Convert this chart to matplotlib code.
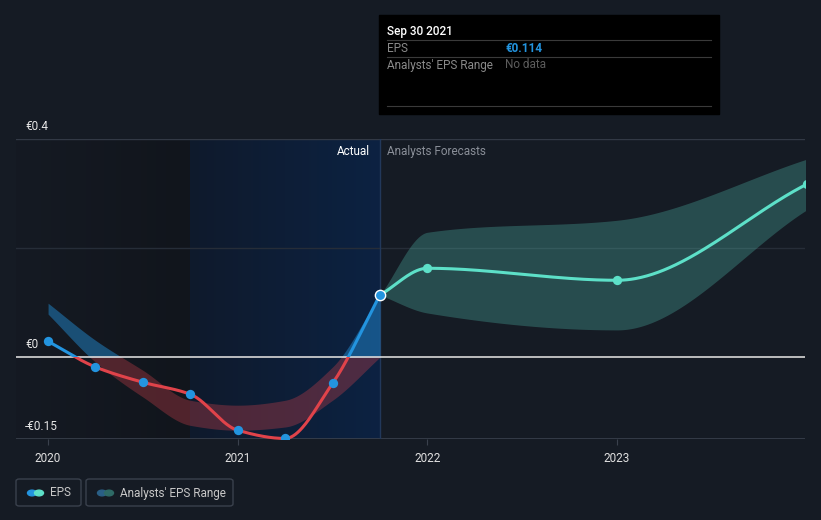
import numpy as np
import matplotlib
matplotlib.use('Agg')
import matplotlib.pyplot as plt
from matplotlib.patches import Rectangle, FancyBboxPatch, Circle
from matplotlib.colors import to_rgb

plt.rcParams['font.family'] = ['Roboto', 'DejaVu Sans']

# data (decimal years)
eps_x = [2020.0, 2020.25, 2020.5, 2020.75, 2021.0, 2021.25, 2021.5, 2021.75]
eps_y = [0.029, -0.018, -0.046, -0.068, -0.134, -0.149, -0.048, 0.114]
past_hi = [0.099, 0.031, -0.024, -0.079, -0.088, -0.079, -0.018, 0.114]
past_lo = [0.079, -0.009, -0.073, -0.125, -0.134, -0.128, -0.079, 0.0]

fc_x = [2021.75, 2022.0, 2023.0, 2024.0]
fc_y = [0.114, 0.163, 0.141, 0.317]
fc_hi = [0.114, 0.229, 0.251, 0.363]
fc_lo = [0.114, 0.081, 0.050, 0.270]

ytick_labels = ['€0.4', '€0', '-€0.15']
xticks = [2020, 2021, 2022, 2023]

BG = '#151b24'
BLUE = '#2394df'
RED = '#e0434a'
TEAL = '#5de0c8'

W, H = 821, 520


def pchip(x, y, n=300):
    x = np.asarray(x, float)
    y = np.asarray(y, float)
    h = np.diff(x)
    d = np.diff(y) / h
    m = np.zeros_like(y)
    m[0], m[-1] = d[0], d[-1]
    for i in range(1, len(y) - 1):
        if d[i - 1] * d[i] > 0:
            w1 = 2 * h[i] + h[i - 1]
            w2 = h[i] + 2 * h[i - 1]
            m[i] = (w1 + w2) / (w1 / d[i - 1] + w2 / d[i])
    xs = np.linspace(x[0], x[-1], n)
    idx = np.clip(np.searchsorted(x, xs) - 1, 0, len(x) - 2)
    t = (xs - x[idx]) / h[idx]
    h00 = 2 * t**3 - 3 * t**2 + 1
    h10 = t**3 - 2 * t**2 + t
    h01 = -2 * t**3 + 3 * t**2
    h11 = t**3 - t**2
    ys = h00 * y[idx] + h10 * h[idx] * m[idx] + h01 * y[idx + 1] + h11 * h[idx] * m[idx + 1]
    return xs, ys


def fx(px):
    return px / W


def fy(py):
    return 1 - py / H


fig = plt.figure(figsize=(W / 100, H / 100), dpi=100, facecolor=BG)
ax = fig.add_axes([fx(16), fy(439), (805 - 16) / W, (439 - 139) / H])
ax.set_facecolor(BG)
x0, x1 = 2019.831, 2023.991
for s in ax.spines.values():
    s.set_visible(False)

# background regions
def grad(xa, xb, c1, c2, z=0):
    c1, c2 = np.array(to_rgb(c1)), np.array(to_rgb(c2))
    t = np.linspace(0, 1, 600)[None, :, None]
    img = c1 + (c2 - c1) * t
    ax.imshow(img, extent=[xa, xb, -0.15, 0.4], aspect='auto', zorder=z, interpolation='bicubic')

grad(x0, 2020.75, '#151a23', '#11151c')
grad(2020.75, 2021.75, '#0f1a2c', '#0c2242')
ax.set_xlim(x0, x1)
ax.set_ylim(-0.15, 0.4)

# grid lines
ax.axhline(0.4, color='#323945', lw=1, zorder=1)
ax.axhline(0.2, color='#262d38', lw=1, zorder=1)
ax.axhline(-0.15, color='#3a414d', lw=1.2, zorder=1)
ax.axhline(0.0, color='#d8d8d8', lw=1.2, zorder=3)
ax.axvline(2021.75, color='#22385a', lw=1, zorder=1)

above = Rectangle((x0, 0), x1 - x0, 1, transform=ax.transData)
below = Rectangle((x0, -1), x1 - x0, 1, transform=ax.transData)

# past analyst range
bx, bh = pchip(eps_x, past_hi)
_, bl = pchip(eps_x, past_lo)
f1 = ax.fill_between(bx, bl, bh, color=BLUE, alpha=0.45, lw=0, zorder=2)
f1.set_clip_path(above)
f2 = ax.fill_between(bx, bl, bh, color='#c8404a', alpha=0.35, lw=0, zorder=2)
f2.set_clip_path(below)

# forecast range
gx, gh = pchip(fc_x, fc_hi)
_, gl = pchip(fc_x, fc_lo)
ax.fill_between(gx, gl, gh, color='#5ad2c0', alpha=0.27, lw=0, zorder=2)

# EPS line
ex, ey = pchip(eps_x, eps_y)
l1, = ax.plot(ex, ey, color=BLUE, lw=2.2, zorder=4, solid_capstyle='round')
l1.set_clip_path(above)
l2, = ax.plot(ex, ey, color=RED, lw=2.2, zorder=4, solid_capstyle='round')
l2.set_clip_path(below)
ax.scatter(eps_x[:-1], eps_y[:-1], s=45, color=BLUE, zorder=5, lw=0)

# forecast line
cx, cy = pchip(fc_x, fc_y)
ax.plot(cx, cy, color=TEAL, lw=2.2, zorder=4)
ax.scatter(fc_x[1:], fc_y[1:], s=45, color=TEAL, zorder=5, lw=0)
ax.scatter([eps_x[-1]], [eps_y[-1]], s=55, color=BLUE, edgecolor='white', lw=1, zorder=6)

# ticks
ax.set_xticks(xticks)
ax.set_xticklabels([str(t) for t in xticks], color='#e0e0e0', fontsize=8.5)
ax.tick_params(axis='x', length=4, color='#3a414d', pad=5)
ax.set_yticks([])
lab_y = [127, 345, 427]
for lab, py in zip(ytick_labels, lab_y):
    fig.text(fx(25), fy(py), lab, color='#e6e6e6', fontsize=8.5, va='center', ha='left')

fig.text(fx(370), fy(151), 'Actual', color='#ffffff', fontsize=8.5, va='center', ha='right')
fig.text(fx(387), fy(151), 'Analysts Forecasts', color='#8a8f98', fontsize=8.5, va='center', ha='left')

# tooltip
fig.patches.append(Rectangle((fx(379), fy(114)), (719 - 379) / W, (114 - 15) / H,
                             transform=fig.transFigure, color='#000000', zorder=10))
for py in [40, 57, 106]:
    fig.add_artist(plt.Line2D([fx(387), fx(711)], [fy(py), fy(py)], color='#3a3a3a', lw=0.8, zorder=11))
fig.text(fx(387), fy(31), 'Sep 30 2021', color='#ffffff', fontsize=8.5, fontweight='medium', va='center', zorder=12)
fig.text(fx(387), fy(48), 'EPS', color='#8a8a8a', fontsize=8.5, va='center', zorder=12)
fig.text(fx(505), fy(48), '€0.114', color=BLUE, fontsize=8.5, fontweight='bold', va='center', zorder=12)
fig.text(fx(387), fy(65), "Analysts' EPS Range", color='#8a8a8a', fontsize=8.5, va='center', zorder=12)
fig.text(fx(505), fy(65), 'No data', color='#5c5c5c', fontsize=8.5, va='center', zorder=12)

# legend
def legend_box(xa, xb, c1, c2, label):
    fig.patches.append(FancyBboxPatch((fx(xa), fy(506)), (xb - xa) / W, 27 / H,
                                      boxstyle='round,pad=0,rounding_size=0.004',
                                      transform=fig.transFigure, fc='none', ec='#3a414d', lw=1))
    fig.patches.append(Circle((fx(xa + 16), fy(493)), 4.5 / W, transform=fig.transFigure, color=c1, zorder=3))
    fig.patches.append(Circle((fx(xa + 23), fy(493)), 4.5 / W, transform=fig.transFigure, color=c2, zorder=3))
    fig.text(fx(xa + 34), fy(493), label, color='#c8c8c8', fontsize=8.5, va='center')

legend_box(16, 81, BLUE, TEAL, 'EPS')
legend_box(86, 233, '#2a5f86', '#2e6a66', "Analysts' EPS Range")

fig.savefig('out.png', dpi=100, facecolor=BG)
